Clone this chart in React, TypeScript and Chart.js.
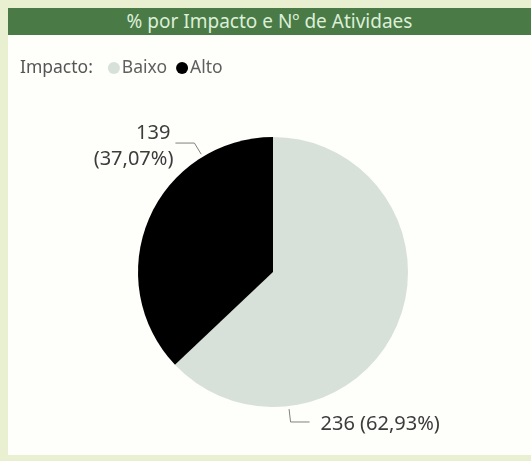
import React, { useEffect, useRef } from "react";
import { Chart, PieController, ArcElement } from "chart.js";

Chart.register(PieController, ArcElement);

const chartTitle = "% por Impacto e Nº de Atividaes";
const legendTitle = "Impacto:";
const categories = ["Baixo", "Alto"];
const counts = [236, 139];
const sliceColors = ["#d7e1d9", "#000000"];

const FONT = "'Noto Sans', sans-serif";

function pct(v: number): string {
  const total = counts.reduce((a, b) => a + b, 0);
  return (v / total * 100).toFixed(2).replace(".", ",") + "%";
}

const overlayPlugin = {
  id: "overlay",
  afterDraw(chart: any) {
    const ctx = chart.ctx as CanvasRenderingContext2D;
    ctx.save();
    // legend
    ctx.font = `17.5px ${FONT}`;
    ctx.textBaseline = "middle";
    ctx.textAlign = "left";
    let x = 12;
    const y = 33;
    ctx.fillStyle = "#555555";
    ctx.fillText(legendTitle, x, y);
    x += ctx.measureText(legendTitle).width + 15;
    const labels = chart.data.labels as string[];
    const bgs = chart.data.datasets[0].backgroundColor as string[];
    labels.forEach((lab, i) => {
      ctx.beginPath();
      ctx.arc(x + 6, y, 6, 0, Math.PI * 2);
      ctx.fillStyle = bgs[i];
      ctx.fill();
      x += 14;
      ctx.fillStyle = "#606060";
      ctx.fillText(lab, x, y);
      x += ctx.measureText(lab).width + 9;
    });

    // data labels
    const meta = chart.getDatasetMeta(0);
    const values = chart.data.datasets[0].data as number[];
    ctx.strokeStyle = "#808080";
    ctx.lineWidth = 1;
    ctx.fillStyle = "#3c3c3c";
    ctx.font = `20px ${FONT}`;
    meta.data.forEach((arc: any, i: number) => {
      const p = arc.getProps(["x", "y", "startAngle", "endAngle", "outerRadius"], true);
      const a = p.startAngle + 0.765 * (p.endAngle - p.startAngle);
      const r = p.outerRadius + 3;
      const x0 = p.x + Math.cos(a) * r;
      const y0 = p.y + Math.sin(a) * r;
      const x1 = x0 + Math.cos(a) * 13;
      const y1 = y0 + Math.sin(a) * 13;
      const side = Math.cos(a) >= 0 ? 1 : -1;
      const x2 = x1 + side * 19;
      ctx.beginPath();
      ctx.moveTo(x0, y0);
      ctx.lineTo(x1, y1);
      ctx.lineTo(x2, y1);
      ctx.stroke();
      const v = values[i];
      if (side > 0) {
        ctx.textAlign = "left";
        ctx.fillText(`${v} (${pct(v)})`, x2 + 11, y1 + 2);
      } else {
        ctx.textAlign = "right";
        ctx.fillText(`${v}`, x2 - 5, y1 - 10);
        ctx.fillText(`(${pct(v)})`, x2 - 2, y1 + 16);
      }
    });
    ctx.restore();
  },
};

export default function App() {
  const ref = useRef<HTMLCanvasElement | null>(null);
  useEffect(() => {
    if (!ref.current) return;
    const chart = new Chart(ref.current, {
      type: "pie",
      data: {
        labels: categories,
        datasets: [
          {
            data: counts,
            backgroundColor: sliceColors,
            borderWidth: 0,
          },
        ],
      },
      options: {
        animation: false,
        responsive: true,
        maintainAspectRatio: false,
        layout: { padding: { top: 102, bottom: 48, left: 130, right: 123 } },
        plugins: { legend: { display: false }, tooltip: { enabled: false } } as any,
      },
      plugins: [overlayPlugin],
    });
    return () => chart.destroy();
  }, []);

  return (
    <div
      style={{
        position: "fixed",
        left: 0,
        top: 0,
        width: 531,
        height: 461,
        background: "#e9f0d2",
        fontFamily: FONT,
      }}
    >
      <div
        style={{
          position: "absolute",
          left: 8,
          top: 8,
          width: 523,
          height: 27,
          background: "#4a7a46",
          color: "#dcefd8",
          fontSize: 19,
          lineHeight: "27px",
          textAlign: "center",
          whiteSpace: "nowrap",
        }}
      >
        {chartTitle}
      </div>
      <div
        style={{
          position: "absolute",
          left: 8,
          top: 35,
          width: 523,
          height: 420,
          background: "#fefefb",
        }}
      >
        <canvas ref={ref} />
      </div>
    </div>
  );
}
